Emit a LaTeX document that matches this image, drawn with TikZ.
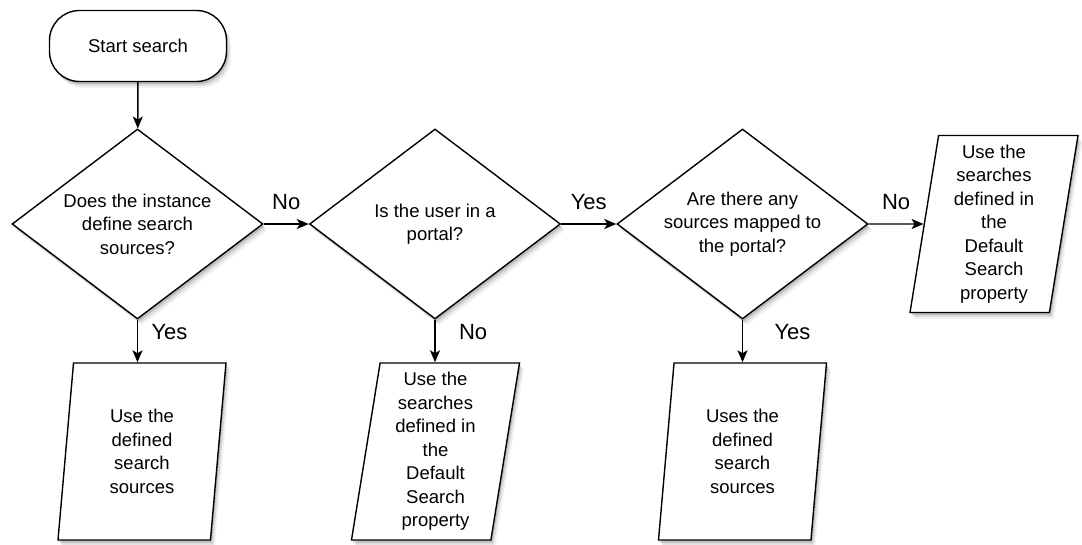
\documentclass[tikz,border=0pt]{standalone}
\usepackage{fontspec}
\setmainfont{Liberation Sans}
\usetikzlibrary{shapes.geometric,shadows,arrows.meta}

\tikzset{
  box/.style={draw, line width=1.4pt, fill=white, align=center,
    font=\fontsize{18.5}{23.5}\selectfont,
    drop shadow={shadow xshift=1.5pt, shadow yshift=-2.5pt, opacity=0.35},
    drop shadow={shadow xshift=3pt, shadow yshift=-4.5pt, opacity=0.2},
    drop shadow={shadow xshift=4.5pt, shadow yshift=-6.5pt, opacity=0.1}},
  startbox/.style={box, rectangle, rounded corners=30pt,
    minimum width=177pt, minimum height=71pt},
  test/.style={box, diamond, aspect=1.32, inner sep=0pt,
    minimum width=251pt, minimum height=190pt},
  io/.style={box, trapezium, trapezium left angle=80, trapezium right angle=100,
    trapezium stretches body, minimum width=168pt, minimum height=177pt, inner sep=2pt},
  arr/.style={line width=1.4pt, -{Stealth[length=12pt,width=10pt,inset=3pt]}},
  lbl/.style={font=\fontsize{22}{26}\selectfont}
}

\begin{document}
\begin{tikzpicture}[x=1pt, y=-1pt]
  \useasboundingbox (0,0) rectangle (1082,545);

  \node[startbox] (start) at (138, 46) {Start search};

  \node[test] (instance) at (137.5, 224) {Does the instance\\define search\\sources?};
  \node[test] (portal) at (435, 224) {Is the user in a\\portal?};
  \node[test] (mapped) at (742.5, 224) {Are there any\\sources mapped to\\the portal?};

  \node[io] (ownsrc) at (142, 451.5) {Use the\\defined\\search\\sources};
  \node[io] (dflt) at (435.5, 451.5) {Use the\\searches\\defined in\\the\\Default\\Search\\property};
  \node[io] (mapsrc) at (742.5, 451.5) {Uses the\\defined\\search\\sources};
  \node[io] (dfltportal) at (994, 224) {Use the\\searches\\defined in\\the\\Default\\Search\\property};

  \draw[arr] (start) -- (instance);

  \draw[arr] (instance.east) -- node[lbl, above=10pt] (noinst) {No} (portal.west);
  \draw[arr] (portal.east) -- node[lbl, above=10pt] (yesportal) {Yes} (mapped.west);
  \draw[arr] (mapped.east) -- node[lbl, above=10pt] (nomapped) {No} (dfltportal.west);

  \draw[arr] (instance.south) -- node[lbl, pos=0.3, anchor=west, xshift=10pt] (yesinst) {Yes} (instance.south |- ownsrc.north);
  \draw[arr] (portal.south) -- node[lbl, pos=0.3, anchor=west, xshift=20pt] (noportal) {No} (portal.south |- dflt.north);
  \draw[arr] (mapped.south) -- node[lbl, pos=0.3, anchor=west, xshift=28pt] (yesmapped) {Yes} (mapped.south |- mapsrc.north);
\end{tikzpicture}
\end{document}
